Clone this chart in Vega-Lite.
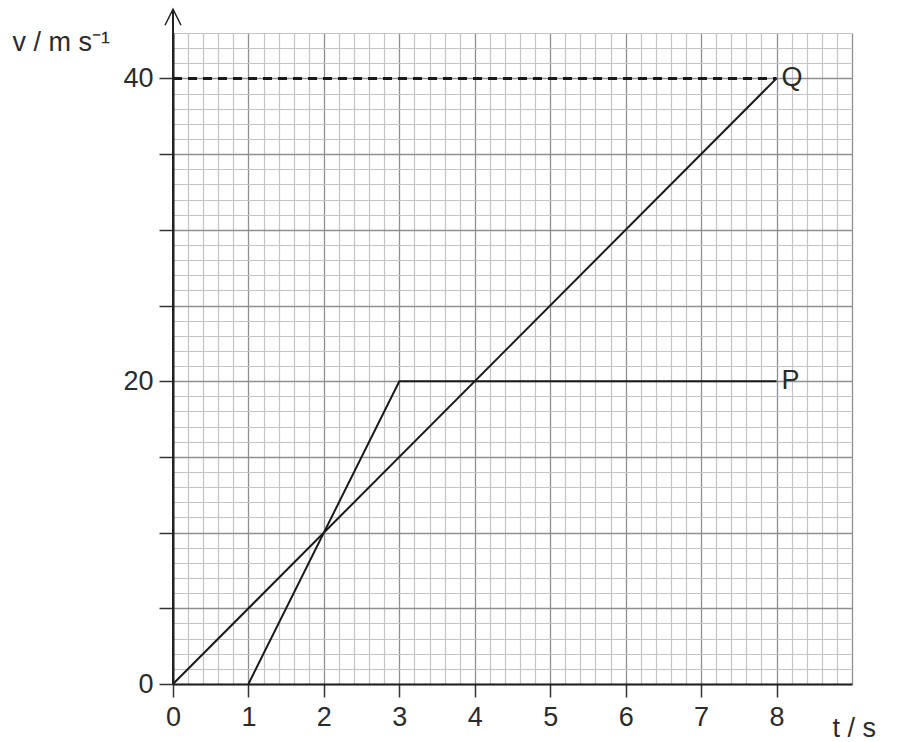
{
  "$schema": "https://vega.github.io/schema/vega-lite/v6.json",
  "width": 679,
  "height": 651,
  "autosize": {"type": "none"},
  "padding": {"left": 173, "top": 33, "right": 53, "bottom": 58},
  "background": "white",
  "config": {"view": {"stroke": null}, "font": "Liberation Sans"},
  "datasets": {
    "lines": [
      {"series": "Q", "t": 0, "v": 0},
      {"series": "Q", "t": 8, "v": 40},
      {"series": "P", "t": 1, "v": 0},
      {"series": "P", "t": 3, "v": 20},
      {"series": "P", "t": 8, "v": 20}
    ],
    "dashed": [
      {"t": 0, "v": 40},
      {"t": 8, "v": 40}
    ],
    "labels": [
      {"name": "Q", "t": 8, "v": 40},
      {"name": "P", "t": 8, "v": 20}
    ]
  },
  "layer": [
    {
      "data": {"name": "dashed"},
      "mark": {"type": "line", "color": "#1a1a1a", "strokeWidth": 3, "strokeDash": [9, 6]},
      "encoding": {
        "x": {
          "field": "t", "type": "quantitative",
          "scale": {"domain": [0, 9], "nice": false, "zero": false},
          "axis": {
            "values": [0,0.2,0.4,0.6,0.8,1,1.2,1.4,1.6,1.8,2,2.2,2.4,2.6,2.8,3,3.2,3.4,3.6,3.8,4,4.2,4.4,4.6,4.8,5,5.2,5.4,5.6,5.8,6,6.2,6.4,6.6,6.8,7,7.2,7.4,7.6,7.8,8,8.2,8.4,8.6,8.8,9],
            "tickCount": 200,
            "title": "t / s",
            "titleX": 659, "titleY": 52, "titleAlign": "left", "titleBaseline": "alphabetic", "titleAngle": 0,
            "titleFontSize": 27, "titleFontWeight": "normal", "titleColor": "#2b2b2b", "titleFont": "Liberation Sans",
            "labelFontSize": 27, "labelColor": "#2b2b2b", "labelFont": "Liberation Sans", "labelPadding": 7,
            "labelOverlap": false, "labelFlush": false,
            "labelExpr": "datum.value % 1 === 0 && datum.value <= 8 ? '' + datum.value : ''",
            "tickSize": 13, "tickWidth": 1.5,
            "tickColor": {"condition": {"test": "datum.value % 1 === 0 && datum.value <= 8", "value": "#333333"}, "value": "transparent"},
            "domainColor": "#222222", "domainWidth": 2,
            "grid": true, "gridOpacity": 1,
            "gridWidth": {"condition": {"test": "datum.value % 1 === 0", "value": 1.3}, "value": 1.2},
            "gridColor": {"condition": {"test": "datum.value % 1 === 0", "value": "#8f8f8f"}, "value": "#c4c4c4"}
          }
        },
        "y": {
          "field": "v", "type": "quantitative",
          "scale": {"domain": [0, 43], "nice": false, "zero": false},
          "axis": {
            "values": [0,1,2,3,4,5,6,7,8,9,10,11,12,13,14,15,16,17,18,19,20,21,22,23,24,25,26,27,28,29,30,31,32,33,34,35,36,37,38,39,40,41,42,43],
            "tickCount": 200,
            "title": "v / m s⁻¹",
            "titleX": -161, "titleY": 17, "titleAlign": "left", "titleBaseline": "alphabetic", "titleAngle": 0,
            "titleFontSize": 27, "titleFontWeight": "normal", "titleColor": "#2b2b2b", "titleFont": "Liberation Sans",
            "labelFontSize": 27, "labelColor": "#2b2b2b", "labelFont": "Liberation Sans", "labelPadding": 6,
            "labelOverlap": false, "labelFlush": false,
            "labelExpr": "datum.value % 20 === 0 ? '' + datum.value : ''",
            "tickSize": 14, "tickWidth": 1.5,
            "tickColor": {"condition": {"test": "datum.value % 5 === 0 && datum.value <= 40", "value": "#333333"}, "value": "transparent"},
            "domainColor": "#222222", "domainWidth": 2,
            "grid": true, "gridOpacity": 1,
            "gridWidth": {"condition": {"test": "datum.value % 5 === 0", "value": 1.3}, "value": 1.2},
            "gridColor": {"condition": {"test": "datum.value % 5 === 0", "value": "#8f8f8f"}, "value": "#c4c4c4"}
          }
        }
      }
    },
    {
      "data": {"name": "lines"},
      "mark": {"type": "line", "color": "#1a1a1a", "strokeWidth": 2},
      "encoding": {
        "x": {"field": "t", "type": "quantitative"},
        "y": {"field": "v", "type": "quantitative"},
        "detail": {"field": "series", "type": "nominal"},
        "order": {"field": "t", "type": "quantitative"}
      }
    },
    {
      "data": {"name": "labels"},
      "mark": {"type": "text", "align": "left", "baseline": "middle", "dx": 5, "fontSize": 27, "color": "#2b2b2b", "font": "Liberation Sans"},
      "encoding": {
        "x": {"field": "t", "type": "quantitative"},
        "y": {"field": "v", "type": "quantitative"},
        "text": {"field": "name", "type": "nominal"}
      }
    },
    {
      "data": {"values": [{}]},
      "mark": {"type": "rule", "color": "#222222", "strokeWidth": 2},
      "encoding": {
        "x": {"datum": 0, "type": "quantitative"},
        "y": {"datum": 0, "type": "quantitative"},
        "y2": {"datum": 44.57}
      }
    },
    {
      "data": {"values": [{}]},
      "mark": {"type": "point", "shape": "M-1,2L0,0L1,2", "size": 256, "filled": false, "color": "#222222", "strokeWidth": 1.5, "opacity": 1},
      "encoding": {
        "x": {"datum": 0, "type": "quantitative"},
        "y": {"datum": 44.57, "type": "quantitative"}
      }
    }
  ]
}
